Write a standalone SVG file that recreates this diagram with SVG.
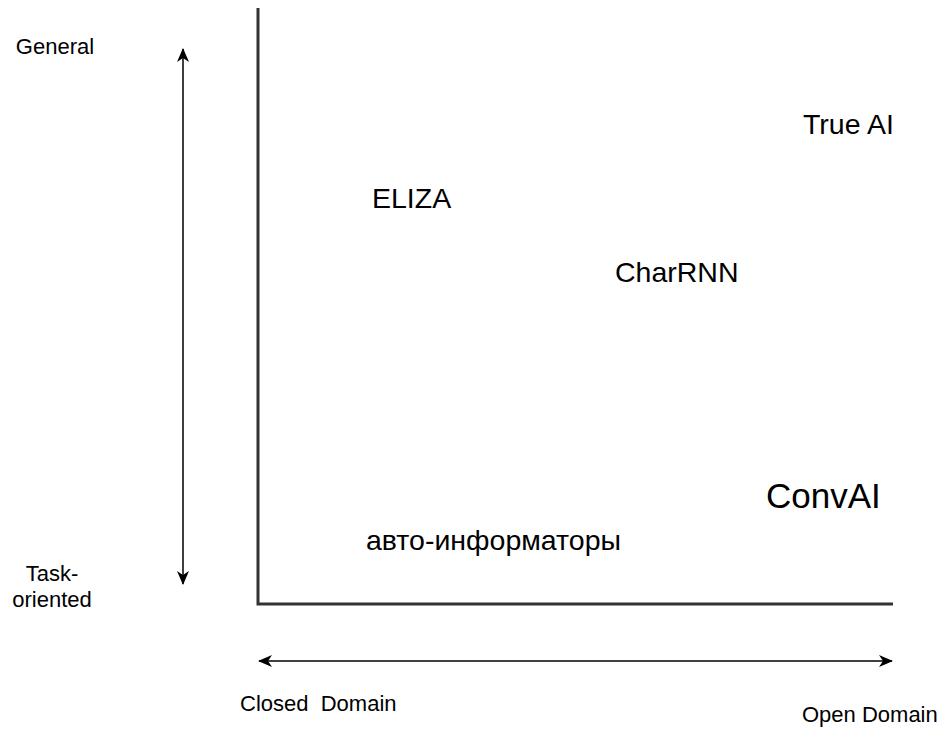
<svg xmlns="http://www.w3.org/2000/svg" width="942" height="729" viewBox="0 0 942 729">
<style>
.t{font-family:"Liberation Sans",Arial,Helvetica,sans-serif;fill:#000}
.s{font-size:22px}
.m{font-size:28.5px}
.axis{stroke:#333;stroke-width:3;fill:none}
.arr{stroke:#000;stroke-width:1.5;fill:none}
</style>
<defs>
<marker id="ah" viewBox="0 0 14 12" refX="13" refY="6" markerWidth="14" markerHeight="12" markerUnits="userSpaceOnUse" orient="auto-start-reverse">
<path d="M0,0 L14,6 L0,12 L4,6 Z" fill="#000"/>
</marker>
</defs>
<rect width="942" height="729" fill="#fff"/>
<g id="connectors">
<path class="axis" d="M258,8 V604 H893"/>
<line class="arr" x1="183" y1="49" x2="183" y2="584" marker-start="url(#ah)" marker-end="url(#ah)"/>
<line class="arr" x1="259" y1="661" x2="892" y2="661" marker-start="url(#ah)" marker-end="url(#ah)"/>
</g>
<g id="general"><text class="t s" x="55" y="54" text-anchor="middle">General</text></g>
<g id="task"><text class="t s" x="52" y="581" text-anchor="middle">Task-</text><text class="t s" x="52" y="607" text-anchor="middle">oriented</text></g>
<g id="eliza"><text class="t m" x="372" y="208">ELIZA</text></g>
<g id="trueai"><text class="t m" x="803" y="134">True AI</text></g>
<g id="charrnn"><text class="t m" x="615" y="282">CharRNN</text></g>
<g id="convai"><text class="t" x="766" y="508" font-size="35">ConvAI</text></g>
<g id="avto"><text class="t m" x="366" y="550">авто-информаторы</text></g>
<g id="closed"><text class="t s" x="240" y="711" xml:space="preserve">Closed  Domain</text></g>
<g id="open"><text class="t s" x="802" y="722">Open Domain</text></g>
</svg>
